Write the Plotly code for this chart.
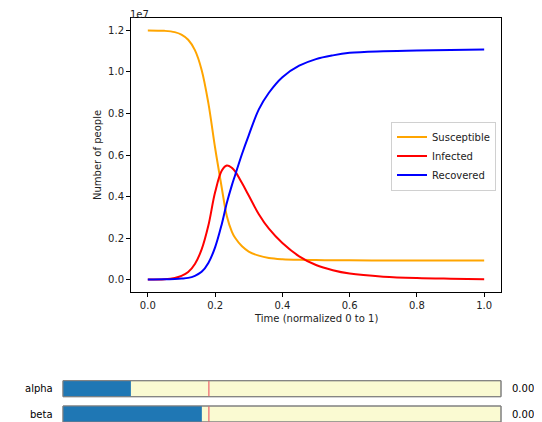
import plotly.graph_objects as go

# ---- data (people, in units of 1e7) ----
t = [0, 0.05, 0.08, 0.1, 0.12, 0.14, 0.16, 0.18, 0.2, 0.22, 0.235, 0.25, 0.26,
     0.28, 0.3, 0.33, 0.36, 0.4, 0.45, 0.5, 0.55, 0.6, 0.7, 0.8, 0.9, 1.0]
susceptible = [1.2, 1.198, 1.192, 1.18, 1.155, 1.105, 1.01, 0.85, 0.635, 0.44, 0.305,
               0.23, 0.20, 0.16, 0.135, 0.115, 0.104, 0.098, 0.095, 0.094, 0.093,
               0.093, 0.092, 0.092, 0.092, 0.092]
infected = [0, 0.002, 0.008, 0.018, 0.036, 0.075, 0.145, 0.26, 0.42, 0.525, 0.549,
            0.538, 0.52, 0.465, 0.405, 0.315, 0.245, 0.176, 0.112, 0.07, 0.045, 0.029,
            0.014, 0.007, 0.004, 0.002]
recovered = [0, 0.001, 0.003, 0.005, 0.008, 0.018, 0.037, 0.08, 0.155, 0.268, 0.37,
             0.455, 0.505, 0.605, 0.695, 0.82, 0.90, 0.975, 1.03, 1.062, 1.08, 1.092,
             1.100, 1.104, 1.106, 1.108]
SCALE = 1e7

x_ticks = [0.0, 0.2, 0.4, 0.6, 0.8, 1.0]
x_tick_labels = ["0.0", "0.2", "0.4", "0.6", "0.8", "1.0"]
y_ticks = [0.0, 0.2, 0.4, 0.6, 0.8, 1.0, 1.2]
y_tick_labels = ["0.0", "0.2", "0.4", "0.6", "0.8", "1.0", "1.2"]

slider_names = ["alpha", "beta"]
slider_values = [0.00155, 0.00317]
slider_init = [0.00333, 0.00333]
slider_min, slider_max = 0.0, 0.01

# page body has an 8px margin; the figure fills the rest of the 542x422 window
OFF = 8
W, H = 542 - OFF, 422 - OFF
FONT = "DejaVu Sans"

def px_x(p):
    return (p - OFF) / W

def px_y(p):
    return (H - (p - OFF)) / H

fig = go.Figure()
series = [("Susceptible", susceptible, "orange"),
          ("Infected", infected, "red"),
          ("Recovered", recovered, "blue")]
for name, vals, col in series:
    fig.add_trace(go.Scatter(
        x=t, y=[v * SCALE for v in vals], mode="lines", name=name,
        line=dict(color=col, width=2, shape="spline", smoothing=1.0),
        xaxis="x", yaxis="y"))

# slider bars
slider_rows = [(396.7, 380.7), (422.0, 406.0)]
for i, (nm, val) in enumerate(zip(slider_names, slider_values)):
    ax = str(i + 2)
    fig.add_trace(go.Bar(
        x=[val - slider_min], y=[0], base=slider_min, orientation="h", width=1,
        marker=dict(color="#1f77b4", line=dict(width=0)), showlegend=False,
        xaxis="x" + ax, yaxis="y" + ax, hoverinfo="skip"))

axis_common = dict(showline=True, mirror=True, linecolor="black", linewidth=1,
                   ticks="outside", ticklen=4, tickcolor="black", showgrid=False,
                   zeroline=False, tickfont=dict(family=FONT, size=10, color="#222"))

layout = dict(
    width=W, height=H, margin=dict(l=0, r=0, t=0, b=0),
    paper_bgcolor="white", plot_bgcolor="white",
    font=dict(family=FONT, size=10, color="black"),
    xaxis=dict(domain=[px_x(131), px_x(501)], range=[-0.05, 1.05],
               tickvals=x_ticks, ticktext=x_tick_labels, anchor="y", **axis_common),
    yaxis=dict(domain=[px_y(292), px_y(18)], range=[-0.06 * SCALE, 1.26 * SCALE],
               tickvals=[v * SCALE for v in y_ticks], ticktext=y_tick_labels,
               anchor="x", **axis_common),
    legend=dict(x=px_x(496), y=px_y(156), xanchor="right", yanchor="middle",
                bgcolor="rgba(255,255,255,0.8)", bordercolor="#d0d0d0", borderwidth=1,
                font=dict(family=FONT, size=10, color="#222"), itemwidth=30,
                tracegroupgap=0),
)
for i, (bot, top) in enumerate(slider_rows):
    ax = str(i + 2)
    layout["xaxis" + ax] = dict(domain=[px_x(63), px_x(501)], range=[slider_min, slider_max],
                                visible=False, anchor="y" + ax, fixedrange=True)
    layout["yaxis" + ax] = dict(domain=[px_y(bot), px_y(top)], range=[-0.5, 0.5],
                                visible=False, anchor="x" + ax, fixedrange=True)
fig.update_layout(**layout)

shapes = []
annotations = []
for i, (nm, val, init) in enumerate(zip(slider_names, slider_values, slider_init)):
    ax = str(i + 2)
    shapes.append(dict(type="rect", xref="x" + ax + " domain", yref="y" + ax + " domain",
                       x0=0, x1=1, y0=0, y1=1, fillcolor="#FAFAD2",
                       line=dict(color="#808080", width=1), layer="below"))
    shapes.append(dict(type="line", xref="x" + ax, yref="y" + ax + " domain",
                       x0=init, x1=init, y0=0, y1=1,
                       line=dict(color="#f08080", width=1.5), layer="above"))
    shapes.append(dict(type="rect", xref="x" + ax + " domain", yref="y" + ax + " domain",
                       x0=0, x1=1, y0=0, y1=1, fillcolor="rgba(0,0,0,0)",
                       line=dict(color="#808080", width=1), layer="above"))
    annotations.append(dict(text=nm, xref="x" + ax + " domain", yref="y" + ax + " domain",
                            x=-0.018, y=0.5, xanchor="right", yanchor="middle",
                            showarrow=False, font=dict(family=FONT, size=10, color="black")))
    annotations.append(dict(text=f"{val:.2f}", xref="x" + ax + " domain",
                            yref="y" + ax + " domain", x=1.02, y=0.5, xanchor="left",
                            yanchor="middle", showarrow=False,
                            font=dict(family=FONT, size=10, color="black")))

annotations.append(dict(text="1e7", xref="paper", yref="paper", x=px_x(129), y=1.0,
                        xanchor="left", yanchor="top", borderpad=0, showarrow=False,
                        font=dict(family=FONT, size=10, color="#222")))
annotations.append(dict(text="Time (normalized 0 to 1)", xref="paper", yref="paper",
                        x=px_x(316), y=px_y(318), xanchor="center", yanchor="middle",
                        showarrow=False, font=dict(family=FONT, size=10, color="#222")))
annotations.append(dict(text="Number of people", xref="paper", yref="paper",
                        x=px_x(97), y=px_y(155), xanchor="center", yanchor="middle",
                        textangle=-90, showarrow=False,
                        font=dict(family=FONT, size=10, color="#222")))
fig.update_layout(shapes=shapes, annotations=annotations)

fig.write_html("out.html")
